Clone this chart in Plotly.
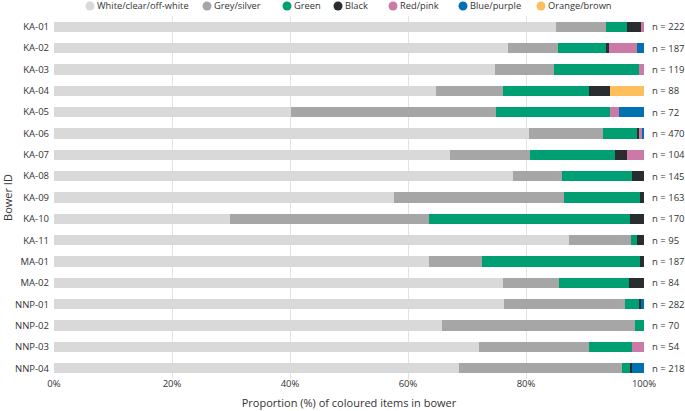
import plotly.graph_objects as go

bowers = ["KA-01", "KA-02", "KA-03", "KA-04", "KA-05", "KA-06", "KA-07", "KA-08", "KA-09",
          "KA-10", "KA-11", "MA-01", "MA-02", "NNP-01", "NNP-02", "NNP-03", "NNP-04"]
n_items = [222, 187, 119, 88, 72, 470, 104, 145, 163, 170, 95, 187, 84, 282, 70, 54, 218]

white = [85.0, 76.9, 74.7, 64.7, 40.1, 80.5, 67.2, 77.8, 57.6, 29.9, 87.3, 63.6, 76.1, 76.2, 65.7, 72.1, 68.7]
grey = [8.6, 8.5, 10.1, 11.4, 34.8, 12.6, 13.5, 8.3, 28.8, 33.6, 10.5, 9.0, 9.5, 20.5, 32.8, 18.5, 27.5]
green = [3.6, 8.1, 14.3, 14.6, 19.4, 5.8, 14.4, 11.8, 12.9, 34.1, 1.0, 26.8, 11.9, 2.5, 1.5, 7.4, 1.4]
black = [2.3, 0.5, 0.0, 3.5, 0.0, 0.2, 2.0, 2.1, 0.7, 2.4, 1.2, 0.6, 2.5, 0.3, 0.0, 0.0, 0.4]
red = [0.5, 4.8, 0.9, 0.0, 1.4, 0.6, 2.9, 0.0, 0.0, 0.0, 0.0, 0.0, 0.0, 0.0, 0.0, 2.0, 0.0]
blue = [0.0, 1.2, 0.0, 0.0, 4.3, 0.3, 0.0, 0.0, 0.0, 0.0, 0.0, 0.0, 0.0, 0.5, 0.0, 0.0, 2.0]
orange = [0.0, 0.0, 0.0, 5.8, 0.0, 0.0, 0.0, 0.0, 0.0, 0.0, 0.0, 0.0, 0.0, 0.0, 0.0, 0.0, 0.0]

series_names = ["White/clear/off-white", "Grey/silver", "Green", "Black",
                "Red/pink", "Blue/purple", "Orange/brown"]
series_values = [white, grey, green, black, red, blue, orange]
series_colors = ["#d9d9d9", "#a6a6a6", "#009e73", "#2a2d30", "#cc79a7", "#0072b2", "#ffbe5c"]

# layout constants (pixels)
W, H = 685, 411
ML, MR, MT, MB = 54, 41, 16, 32
PW, PH = W - ML - MR, H - MT - MB
legend_circle_px = [90, 207, 287, 338, 393, 463, 541]
legend_y_px = 6

FONT = "Open Sans"
TXT = "#333333"

fig = go.Figure()
for name, vals, col in zip(series_names, series_values, series_colors):
    fig.add_trace(go.Bar(
        y=bowers, x=vals, name=name, orientation="h",
        marker=dict(color=col, line=dict(width=0)),
        showlegend=False,
    ))

for b, n in zip(bowers, n_items):
    fig.add_annotation(x=100, y=b, xref="x", yref="y", text=f"n = {n}",
                       showarrow=False, xanchor="left", xshift=6,
                       font=dict(family=FONT, size=9.5, color=TXT))

# custom compact legend
ly = 1 + (MT - legend_y_px) / PH
for name, col, cx in zip(series_names, series_colors, legend_circle_px):
    xp = (cx - ML) / PW
    fig.add_shape(type="circle", xref="paper", yref="paper",
                  xsizemode="pixel", ysizemode="pixel",
                  xanchor=xp, yanchor=ly, x0=-4.5, x1=4.5, y0=-4.5, y1=4.5,
                  fillcolor=col, line=dict(width=0))
    fig.add_annotation(x=xp, y=ly, xref="paper", yref="paper", text=name,
                       showarrow=False, xanchor="left", yanchor="middle", xshift=5,
                       font=dict(family=FONT, size=9.3, color=TXT))

fig.update_layout(
    barmode="stack",
    bargap=0.52,
    width=W, height=H,
    margin=dict(l=ML, r=MR, t=MT, b=MB, pad=0, autoexpand=False),
    plot_bgcolor="white", paper_bgcolor="white",
    font=dict(family=FONT, size=9.5, color=TXT),
    showlegend=False,
    xaxis=dict(range=[0, 100], tickvals=[0, 20, 40, 60, 80, 100],
               ticktext=["0%", "20%", "40%", "60%", "80%", "100%"],
               showgrid=True, gridcolor="#e3e3e3", gridwidth=1,
               zeroline=False, showline=False, ticks="", automargin=False,
               ticklabelstandoff=-3,
               title=dict(text="Proportion (%) of coloured items in bower",
                          font=dict(family=FONT, size=11, color=TXT), standoff=10),
               tickfont=dict(family=FONT, size=9.5, color=TXT)),
    yaxis=dict(autorange="reversed", showgrid=False, zeroline=False, showline=False,
               ticks="", ticklabelstandoff=4, automargin=False,
               title=dict(text="Bower ID", font=dict(family=FONT, size=11, color=TXT),
                          standoff=4),
               tickfont=dict(family=FONT, size=9.5, color=TXT)),
)

fig.write_html("out.html", config={"displayModeBar": False},
               post_script="document.body.style.margin='0';document.body.style.padding='0';")
